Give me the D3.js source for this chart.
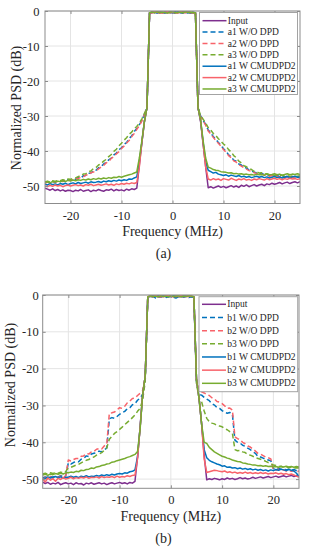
<!DOCTYPE html>
<meta charset="utf-8">
<style>

body {
  margin: 0;
  background: #fff;
}

svg {
  display: block;
}

.grid line {
  stroke: #e4e4e4;
  stroke-width: 1px;
}

.frame {
  fill: none;
  stroke: #8c8c8c;
  stroke-width: 1px;
}

.axis path {
  display: none;
}

.axis line {
  stroke: #8c8c8c;
}

.curve {
  fill: none;
  stroke-width: 1.5px;
  stroke-linejoin: round;
}

.legend rect {
  fill: #fff;
  stroke: #a3a3a3;
  stroke-width: 1px;
}

</style>
<svg width="309" height="550"></svg>

<script src="https://cdn.jsdelivr.net/npm/d3@7"></script>
<script>

var serif = "'Liberation Serif'";

// sample grid, -25 .. 25 MHz every 0.5 MHz (101 points)
var freq = d3.range(-25, 25.25, 0.5);

var xTicks = [-20, -10, 0, 10, 20],
    yTicks = [0, -10, -20, -30, -40, -50];

var aLabels = ["Input", "a1 W/O DPD", "a2 W/O DPD", "a3 W/O DPD", "a1 W CMUDPD2", "a2 W CMUDPD2", "a3 W CMUDPD2"],
    bLabels = ["Input", "b1 W/O DPD", "b2 W/O DPD", "b3 W/O DPD", "b1 W CMUDPD2", "b2 W CMUDPD2", "b3 W CMUDPD2"];

// ---- panel (a), dB ----
var aInput = [
  -50.6,-50.9,-51.2,-50.8,-51.3,-51.0,-51.4,-51.1,-51.5,-51.2,
  -51.3,-51.6,-51.2,-51.4,-51.0,-51.5,-51.3,-51.1,-51.6,-51.2,
  -51.4,-51.0,-51.3,-51.5,-51.1,-51.2,-50.9,-51.4,-51.0,-51.3,
  -51.1,-51.4,-50.9,-51.2,-50.8,-51.0,-50.6,
  -44.0,-37.5,-31.5,-27.5,-0.6,
  -0.3,-0.5,-0.2,-0.6,-0.4,-0.3,-0.5,-0.2,-0.4,-0.6,-0.3,-0.5,-0.2,-0.4,-0.3,-0.6,-0.4,
  -0.5,-27.5,-31.5,-38.0,-44.5,
  -50.5,-50.2,-50.6,-50.3,-50.0,-50.4,-50.1,-50.5,-50.2,-49.9,
  -50.3,-50.0,-50.4,-49.8,-50.1,-49.7,-50.2,-49.9,-49.6,-50.0,
  -49.7,-49.5,-49.9,-49.4,-49.6,-49.2,-49.5,-49.3,-49.0,-49.4,
  -49.1,-48.9,-49.3,-49.0,-48.8,-49.1,-48.8
];

var a1NoDpd = [
  -49.0,-48.8,-49.1,-48.7,-48.9,-48.5,-48.7,-48.4,-48.6,-48.2,
  -48.4,-48.0,-48.1,-47.6,-47.7,-47.1,-47.0,-46.4,-46.3,-45.6,
  -45.5,-44.8,-44.5,-43.7,-43.3,-42.5,-42.0,-41.1,-40.6,-39.6,
  -39.1,-38.1,-37.6,-36.4,-35.7,-34.4,-33.6,
  -32.5,-31.2,-29.5,-27.8,-0.5,
  -0.4,-0.2,-0.6,-0.3,-0.5,-0.4,-0.2,-0.5,-0.3,-0.6,-0.2,-0.4,-0.5,-0.3,-0.6,-0.2,-0.4,
  -0.5,-27.8,-30.0,-31.2,-32.4,
  -34.0,-34.8,-35.9,-36.6,-37.6,-38.3,-39.4,-40.0,-41.1,-41.6,
  -42.6,-42.9,-43.7,-44.0,-44.6,-44.9,-45.4,-45.6,-46.1,-46.2,
  -46.5,-46.4,-46.8,-46.7,-47.0,-46.8,-47.1,-47.0,-47.3,-47.1,
  -47.4,-47.2,-47.5,-47.3,-47.6,-47.4,-47.5
];

var a2NoDpd = [
  -49.2,-48.9,-49.0,-48.9,-48.7,-48.8,-48.6,-48.7,-48.4,-48.5,
  -48.2,-48.3,-47.9,-47.9,-47.5,-47.4,-46.8,-46.9,-46.2,-46.0,
  -45.7,-45.1,-44.6,-44.1,-43.4,-43.0,-42.1,-41.6,-40.8,-40.2,
  -39.3,-38.6,-37.7,-37.0,-35.9,-35.0,-33.8,
  -32.8,-31.4,-29.6,-27.8,-0.5,
  -0.5,-0.3,-0.4,-0.6,-0.2,-0.5,-0.4,-0.3,-0.6,-0.2,-0.5,-0.3,-0.4,-0.6,-0.2,-0.5,-0.3,
  -0.5,-27.8,-30.2,-31.4,-32.6,
  -34.3,-35.1,-36.1,-37.0,-37.8,-38.6,-39.6,-40.4,-41.3,-41.9,
  -42.8,-43.2,-43.9,-44.3,-44.8,-45.2,-45.6,-45.8,-46.2,-46.4,
  -46.7,-46.6,-46.9,-47.0,-47.2,-47.0,-47.3,-47.2,-47.5,-47.3,
  -47.6,-47.4,-47.7,-47.5,-47.8,-47.6,-47.7
];

var a3NoDpd = [
  -48.8,-48.6,-48.9,-48.5,-48.7,-48.4,-48.5,-48.2,-48.4,-48.0,
  -48.1,-47.8,-47.7,-47.3,-47.2,-46.6,-46.5,-45.9,-45.7,-45.0,
  -44.7,-44.0,-43.6,-42.9,-42.4,-41.6,-41.0,-40.1,-39.5,-38.5,
  -37.8,-36.9,-36.2,-35.2,-34.6,-33.6,-33.0,
  -32.0,-30.8,-29.2,-27.6,-0.5,
  -0.3,-0.5,-0.4,-0.2,-0.6,-0.3,-0.4,-0.5,-0.2,-0.4,-0.6,-0.3,-0.5,-0.2,-0.4,-0.5,-0.3,
  -0.5,-27.6,-29.8,-30.9,-32.0,
  -33.3,-34.0,-35.0,-35.6,-36.5,-37.2,-38.0,-38.6,-39.6,-40.3,
  -41.3,-41.9,-42.9,-43.4,-44.2,-44.5,-45.0,-45.3,-45.8,-45.9,
  -46.3,-46.2,-46.6,-46.5,-46.8,-46.7,-47.0,-46.8,-47.1,-46.9,
  -47.2,-47.0,-47.3,-47.1,-47.3,-47.2,-47.1
];

var a1Dpd = [
  -49.5,-49.7,-49.3,-49.6,-49.4,-49.7,-49.3,-49.5,-49.2,-49.6,
  -49.3,-49.1,-49.4,-49.0,-49.3,-49.1,-48.9,-49.2,-48.8,-49.0,
  -48.9,-48.7,-49.0,-48.6,-48.8,-48.5,-48.7,-48.4,-48.6,-48.3,
  -48.5,-48.2,-48.4,-48.0,-48.1,-47.7,-47.4,
  -43.0,-37.5,-31.5,-27.5,-0.5,
  -0.4,-0.3,-0.5,-0.2,-0.4,-0.6,-0.3,-0.4,-0.5,-0.2,-0.4,-0.3,-0.6,-0.4,-0.2,-0.5,-0.4,
  -0.5,-27.5,-31.2,-37.5,-43.0,
  -45.5,-45.9,-46.3,-46.1,-46.6,-46.8,-47.0,-46.8,-47.2,-46.9,
  -47.1,-47.3,-47.0,-47.4,-47.2,-47.5,-47.3,-47.6,-47.4,-47.2,
  -47.5,-47.3,-47.6,-47.4,-47.7,-47.5,-47.3,-47.6,-47.4,-47.7,
  -47.5,-47.3,-47.6,-47.4,-47.2,-47.5,-47.4
];

var a2Dpd = [
  -50.0,-50.2,-49.8,-50.1,-49.7,-50.0,-49.8,-50.2,-49.9,-49.7,
  -50.0,-49.8,-49.6,-49.9,-49.7,-50.0,-49.6,-49.8,-49.5,-49.9,
  -49.7,-49.5,-49.8,-49.6,-49.4,-49.7,-49.5,-49.8,-49.4,-49.6,
  -49.3,-49.5,-49.2,-49.4,-49.1,-49.3,-49.0,
  -44.5,-37.5,-31.5,-27.5,-0.5,
  -0.5,-0.2,-0.4,-0.3,-0.6,-0.4,-0.2,-0.5,-0.3,-0.4,-0.6,-0.2,-0.4,-0.5,-0.3,-0.4,-0.6,
  -0.5,-27.5,-31.2,-37.8,-44.5,
  -48.0,-48.3,-47.9,-48.2,-48.0,-48.4,-47.9,-48.1,-48.3,-47.8,
  -48.1,-48.4,-48.0,-48.2,-47.9,-48.3,-48.1,-48.4,-48.0,-48.2,
  -47.9,-48.1,-48.3,-47.9,-48.2,-48.0,-47.8,-48.1,-47.9,-48.2,
  -47.9,-48.1,-47.8,-48.0,-47.9,-48.1,-47.9
];

var a3Dpd = [
  -49.0,-48.8,-49.1,-48.7,-48.9,-48.6,-48.8,-48.5,-48.7,-48.4,
  -48.6,-48.3,-48.5,-48.2,-48.4,-48.1,-48.3,-48.0,-48.2,-47.9,
  -48.1,-47.8,-48.0,-47.7,-47.9,-47.6,-47.8,-47.5,-47.6,-47.3,
  -47.5,-47.2,-47.0,-46.8,-46.6,-46.3,-46.0,
  -42.0,-37.0,-31.5,-27.5,-0.5,
  -0.3,-0.4,-0.2,-0.5,-0.3,-0.4,-0.6,-0.3,-0.2,-0.5,-0.4,-0.3,-0.5,-0.2,-0.4,-0.3,-0.5,
  -0.5,-27.5,-31.0,-37.0,-42.0,
  -44.6,-44.9,-45.3,-45.5,-45.6,-45.9,-46.0,-46.1,-46.3,-46.2,
  -46.5,-46.4,-46.6,-46.5,-46.7,-46.6,-46.8,-46.7,-46.9,-46.6,
  -46.8,-46.7,-46.9,-46.6,-46.8,-46.7,-46.5,-46.8,-46.6,-46.9,
  -46.7,-46.5,-46.8,-46.6,-46.7,-46.5,-46.7
];

// ---- panel (b), dB ----
var bInput = [
  -50.8,-51.2,-50.9,-51.4,-51.1,-51.3,-50.9,-51.5,-51.2,-51.0,
  -51.3,-51.1,-51.5,-51.0,-51.3,-51.2,-51.6,-51.1,-51.3,-51.0,
  -51.4,-51.2,-51.0,-51.3,-51.1,-51.5,-51.2,-51.0,-51.3,-51.1,
  -50.9,-51.2,-51.0,-51.3,-50.9,-51.1,-50.6,
  -44.0,-36.0,-27.0,-22.0,-0.5,
  -0.3,-0.4,-0.2,-0.5,-0.3,-0.4,-0.2,-0.5,-0.3,-0.4,-0.2,-0.3,-0.5,-0.2,-0.4,-0.3,-0.4,
  -0.5,-23.0,-28.0,-35.0,-43.5,
  -50.2,-49.9,-50.1,-49.8,-50.0,-50.2,-49.9,-50.1,-49.7,-50.0,
  -49.8,-50.1,-49.9,-49.6,-49.9,-49.7,-50.0,-49.8,-49.5,-49.8,
  -49.6,-49.4,-49.7,-49.5,-49.3,-49.6,-49.4,-49.2,-49.5,-49.3,
  -49.1,-49.4,-49.2,-49.0,-49.3,-49.1,-49.3
];

var b1NoDpd = [
  -49.6,-49.4,-49.7,-49.3,-49.5,-49.2,-49.4,-49.1,-49.3,-49.0,
  -45.6,-45.9,-45.5,-45.2,-45.3,-44.6,-44.4,-43.7,-43.9,-43.2,
  -43.0,-42.8,-42.4,-42.6,-42.0,-41.6,-33.6,-33.3,-33.5,-33.0,
  -32.4,-32.0,-31.6,-30.9,-30.6,-29.8,-29.5,
  -28.6,-28.0,-27.0,-23.0,-0.6,
  -0.7,-0.4,-0.8,-0.5,-0.6,-0.3,-0.7,-0.5,-0.4,-0.6,-0.8,-0.5,-0.3,-0.6,-0.4,-0.7,-0.5,
  -0.6,-23.5,-27.0,-27.2,-27.8,
  -28.3,-28.7,-29.5,-29.9,-30.6,-30.8,-31.4,-31.9,-32.1,-31.9,
  -32.3,-39.4,-40.0,-40.2,-40.8,-41.1,-41.6,-42.0,-42.6,-43.0,
  -43.9,-44.0,-44.3,-44.6,-44.8,-45.0,-47.1,-47.3,-47.0,-47.4,
  -47.2,-47.5,-47.3,-47.6,-47.4,-47.7,-47.5
];

var b2NoDpd = [
  -49.8,-49.5,-49.9,-49.4,-49.7,-49.3,-49.6,-49.2,-49.5,-49.1,
  -44.8,-45.1,-44.7,-44.4,-44.4,-43.8,-43.7,-43.0,-43.2,-42.6,
  -42.5,-41.9,-41.7,-41.8,-41.0,-40.6,-32.1,-32.0,-31.8,-31.2,
  -30.6,-30.8,-30.2,-29.3,-28.8,-28.1,-28.0,
  -27.3,-26.7,-26.0,-22.5,-0.5,
  -0.4,-0.2,-0.5,-0.3,-0.6,-0.2,-0.4,-0.3,-0.5,-0.2,-0.4,-0.6,-0.3,-0.2,-0.5,-0.3,-0.4,
  -0.5,-23.0,-26.0,-26.3,-26.6,
  -27.0,-27.3,-27.9,-28.2,-28.9,-29.1,-29.5,-30.1,-30.8,-30.7,
  -31.2,-38.5,-39.0,-39.3,-40.0,-40.4,-41.0,-41.3,-41.8,-42.4,
  -43.0,-43.2,-43.6,-44.0,-44.2,-44.5,-47.4,-47.6,-47.3,-47.8,
  -47.5,-47.8,-47.6,-47.9,-47.7,-48.0,-47.8
];

var b3NoDpd = [
  -48.6,-48.4,-48.7,-48.3,-48.5,-48.2,-48.4,-48.1,-48.3,-47.9,
  -47.0,-46.8,-46.5,-46.2,-46.0,-45.6,-45.2,-44.9,-44.7,-44.2,
  -44.0,-43.5,-43.2,-42.8,-42.2,-41.5,-39.2,-38.4,-37.6,-37.1,
  -36.5,-35.9,-35.2,-34.6,-34.0,-33.3,-32.6,
  -31.6,-30.8,-28.5,-23.5,-0.5,
  -0.3,-0.5,-0.2,-0.4,-0.3,-0.5,-0.2,-0.4,-0.3,-0.2,-0.5,-0.3,-0.4,-0.2,-0.5,-0.3,-0.4,
  -0.5,-24.0,-28.0,-29.0,-31.5,
  -33.5,-34.4,-34.8,-35.0,-35.4,-35.6,-35.8,-36.3,-36.6,-37.1,
  -37.5,-42.0,-42.3,-42.2,-42.6,-42.8,-43.3,-43.5,-43.8,-44.2,
  -44.4,-44.6,-44.8,-45.2,-45.5,-45.8,-46.2,-46.3,-46.6,-46.5,
  -46.8,-46.7,-46.9,-46.8,-47.0,-46.9,-47.0
];

var b1Dpd = [
  -49.6,-49.8,-49.4,-49.7,-49.5,-49.3,-49.6,-49.4,-49.7,-49.5,
  -49.5,-49.2,-49.5,-49.3,-49.6,-49.2,-49.4,-49.1,-49.4,-49.2,
  -49.3,-49.0,-49.2,-48.9,-49.1,-48.8,-49.0,-48.7,-48.9,-48.6,
  -48.5,-48.6,-48.3,-48.4,-48.0,-47.9,-47.5,
  -44.0,-36.0,-27.0,-22.0,-0.5,
  -0.4,-0.3,-0.5,-0.2,-0.4,-0.3,-0.5,-0.2,-0.4,-0.3,-0.2,-0.5,-0.3,-0.4,-0.2,-0.3,-0.4,
  -0.5,-23.0,-28.0,-35.0,-42.0,
  -44.2,-44.9,-45.3,-45.6,-45.9,-46.1,-46.5,-46.4,-46.8,-46.7,
  -47.0,-46.9,-47.2,-47.0,-47.3,-47.1,-47.4,-47.2,-47.5,-47.3,
  -47.6,-47.4,-47.7,-47.5,-47.8,-47.5,-47.7,-47.4,-47.6,-47.3,
  -47.5,-47.7,-47.4,-47.6,-47.8,-48.4,-49.3
];

var b2Dpd = [
  -50.0,-50.8,-49.7,-50.3,-49.9,-50.6,-49.8,-50.1,-49.6,-50.0,
  -49.8,-49.5,-49.9,-49.6,-49.8,-49.5,-49.7,-49.4,-49.8,-49.5,
  -49.6,-49.4,-49.7,-49.3,-49.6,-49.4,-49.5,-49.3,-49.6,-49.2,
  -49.5,-49.3,-49.4,-49.1,-49.3,-49.0,-48.9,
  -44.5,-36.0,-27.0,-22.0,-0.5,
  -0.3,-0.5,-0.2,-0.4,-0.3,-0.5,-0.3,-0.2,-0.4,-0.5,-0.3,-0.4,-0.2,-0.5,-0.3,-0.4,-0.3,
  -0.5,-23.0,-28.0,-35.0,-44.5,
  -48.2,-48.0,-47.8,-47.6,-47.7,-47.9,-48.0,-47.8,-48.2,-48.0,
  -48.3,-48.1,-48.4,-48.2,-48.4,-48.1,-48.4,-48.2,-48.5,-48.3,
  -48.5,-48.2,-48.5,-48.3,-48.6,-48.4,-48.5,-48.3,-48.6,-48.4,
  -48.7,-48.5,-48.8,-48.6,-48.9,-49.2,-49.5
];

var b3Dpd = [
  -48.9,-48.7,-49.0,-48.6,-48.8,-48.5,-48.7,-48.4,-48.6,-48.3,
  -48.3,-48.1,-48.2,-47.9,-48.0,-47.6,-47.7,-47.4,-47.3,-47.0,
  -47.1,-46.7,-46.6,-46.3,-46.2,-45.9,-45.8,-45.4,-45.3,-45.0,
  -44.8,-44.6,-44.4,-44.1,-43.9,-43.6,-43.3,
  -42.5,-36.5,-27.0,-22.0,-0.5,
  -0.2,-0.4,-0.3,-0.5,-0.2,-0.4,-0.3,-0.5,-0.2,-0.4,-0.3,-0.2,-0.5,-0.3,-0.4,-0.2,-0.3,
  -0.5,-23.0,-28.0,-35.0,-40.0,
  -40.3,-41.4,-42.0,-42.6,-43.0,-43.4,-43.8,-44.0,-44.3,-44.5,
  -44.8,-45.0,-45.2,-45.3,-45.6,-45.7,-45.9,-46.0,-46.2,-46.2,
  -46.4,-46.3,-46.5,-46.4,-46.6,-46.5,-46.7,-46.6,-46.8,-46.6,
  -46.7,-46.5,-46.7,-46.6,-46.8,-46.6,-46.7
];

// colour + dash for the seven legend entries (same order in both panels)
var styles = [
  {color: "#7E2F8E", dash: null},
  {color: "#0072BD", dash: "5,3"},
  {color: "#F8636A", dash: "5,3"},
  {color: "#77AC30", dash: "5,3"},
  {color: "#0072BD", dash: null},
  {color: "#F8636A", dash: null},
  {color: "#77AC30", dash: null}
];

var panels = [
  {
    series: [aInput, a1NoDpd, a2NoDpd, a3NoDpd, a1Dpd, a2Dpd, a3Dpd],
    labels: aLabels, caption: "(a)", yMin: -55,
    left: 45, right: 300, top: 11, bottom: 203.5,
    yPad: 5.5, xPad: 7.5, ylabelX: 20.5, ylabelY: 108, xlabelY: 236, captionY: 257.5,
    legend: {x0: 199.5, y0: 12.5, x1: 297.5, y1: 94.5, row0: 20.7, step: 11.38}
  },
  {
    series: [bInput, b1NoDpd, b2NoDpd, b3NoDpd, b1Dpd, b2Dpd, b3Dpd],
    labels: bLabels, caption: "(b)", yMin: -52.5,
    left: 42.7, right: 299, top: 295, bottom: 488.3,
    yPad: 4, xPad: 7, ylabelX: 14.5, ylabelY: 385, xlabelY: 521, captionY: 543,
    legend: {x0: 199, y0: 296.7, x1: 297.7, y1: 391.7, row0: 304.3, step: 13.17}
  }
];

var svg = d3.select("svg");

function label(sel, size) {
  return sel.style("font-family", serif)
      .style("font-size", size + "px")
      .style("fill", "#262626");
}

panels.forEach(function(p, k) {
  var x = d3.scaleLinear().domain([-25, 25]).range([p.left, p.right]),
      y = d3.scaleLinear().domain([p.yMin, 0]).range([p.bottom, p.top]);

  var g = svg.append("g");

  var grid = g.append("g").attr("class", "grid");
  grid.selectAll("line.gx")
    .data(xTicks)
    .enter().append("line")
      .attr("x1", function(d) { return x(d); })
      .attr("x2", function(d) { return x(d); })
      .attr("y1", p.top)
      .attr("y2", p.bottom);
  grid.selectAll("line.gy")
    .data(yTicks)
    .enter().append("line")
      .attr("x1", p.left)
      .attr("x2", p.right)
      .attr("y1", function(d) { return y(d); })
      .attr("y2", function(d) { return y(d); });

  g.append("clipPath")
      .attr("id", "clip" + k)
    .append("rect")
      .attr("x", p.left)
      .attr("y", p.top)
      .attr("width", p.right - p.left)
      .attr("height", p.bottom - p.top);

  var line = d3.line()
      .x(function(d, i) { return x(freq[i]); })
      .y(function(d) { return y(d); });

  g.append("g")
      .attr("clip-path", "url(#clip" + k + ")")
    .selectAll("path")
    .data(p.series)
    .enter().append("path")
      .attr("class", "curve")
      .attr("d", line)
      .attr("stroke", function(d, i) { return styles[i].color; })
      .attr("stroke-dasharray", function(d, i) { return styles[i].dash; });

  g.append("rect")
      .attr("class", "frame")
      .attr("x", p.left)
      .attr("y", p.top)
      .attr("width", p.right - p.left)
      .attr("height", p.bottom - p.top);

  var fmt = function(d) { return String(d); };

  g.append("g")
      .attr("class", "axis")
      .attr("transform", "translate(0," + p.bottom + ")")
      .call(d3.axisBottom(x).tickValues(xTicks).tickFormat(fmt).tickSizeInner(-3).tickSizeOuter(0).tickPadding(p.xPad))
    .selectAll("text")
      .call(label, 12.5);
  g.append("g")
      .attr("class", "axis")
      .attr("transform", "translate(0," + p.top + ")")
      .call(d3.axisTop(x).tickValues(xTicks).tickFormat("").tickSizeInner(-3).tickSizeOuter(0));
  g.append("g")
      .attr("class", "axis")
      .attr("transform", "translate(" + p.left + ",0)")
      .call(d3.axisLeft(y).tickValues(yTicks).tickFormat(fmt).tickSizeInner(-3).tickSizeOuter(0).tickPadding(p.yPad))
    .selectAll("text")
      .call(label, 12.5);
  g.append("g")
      .attr("class", "axis")
      .attr("transform", "translate(" + p.right + ",0)")
      .call(d3.axisRight(y).tickValues(yTicks).tickFormat("").tickSizeInner(-3).tickSizeOuter(0));

  g.append("text")
      .attr("text-anchor", "middle")
      .attr("transform", "translate(" + p.ylabelX + "," + p.ylabelY + ") rotate(-90)")
      .call(label, 14)
      .text("Normalized PSD (dB)");

  g.append("text")
      .attr("text-anchor", "middle")
      .attr("x", (p.left + p.right) / 2)
      .attr("y", p.xlabelY)
      .call(label, 14)
      .text("Frequency (MHz)");

  g.append("text")
      .attr("text-anchor", "middle")
      .attr("x", 163.5)
      .attr("y", p.captionY)
      .call(label, 14)
      .text(p.caption);

  // legend
  var L = p.legend;
  var leg = g.append("g").attr("class", "legend");
  leg.append("rect")
      .attr("x", L.x0)
      .attr("y", L.y0)
      .attr("width", L.x1 - L.x0)
      .attr("height", L.y1 - L.y0);

  var row = leg.selectAll("g.row")
    .data(p.labels)
    .enter().append("g")
      .attr("class", "row")
      .attr("transform", function(d, i) { return "translate(0," + (L.row0 + i * L.step) + ")"; });

  row.append("line")
      .attr("x1", L.x0 + 3)
      .attr("x2", L.x0 + 27)
      .attr("stroke", function(d, i) { return styles[i].color; })
      .attr("stroke-width", 1.5)
      .attr("stroke-dasharray", function(d, i) { return styles[i].dash; });

  row.append("text")
      .attr("x", L.x0 + 28.3)
      .attr("dy", "0.33em")
      .call(label, 9.5)
      .text(function(d) { return d; });
});

</script>
